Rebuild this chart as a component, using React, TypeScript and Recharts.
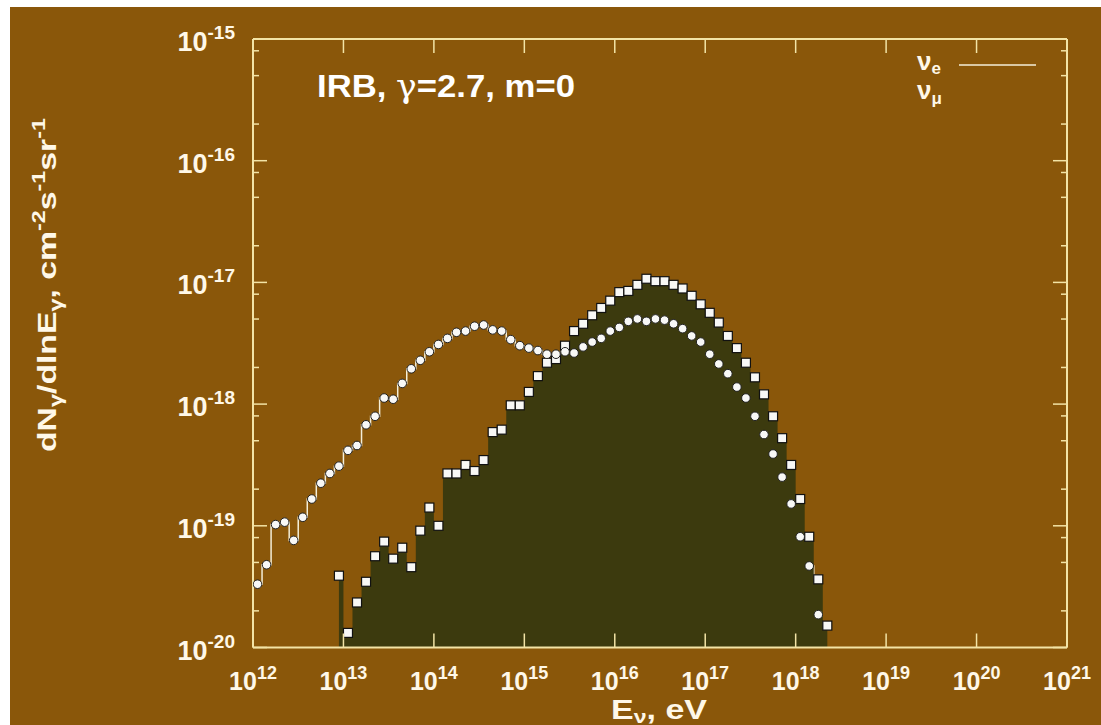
import React from 'react';
import { ComposedChart, Area, Scatter, XAxis, YAxis } from 'recharts';

// log10 of the bin-centre energy (eV)
const LG_E = [
  12.05, 12.15, 12.25, 12.35, 12.45, 12.55, 12.65, 12.75, 12.85, 12.95,
  13.05, 13.15, 13.25, 13.35, 13.45, 13.55, 13.65, 13.75, 13.85, 13.95,
  14.05, 14.15, 14.25, 14.35, 14.45, 14.55, 14.65, 14.75, 14.85, 14.95,
  15.05, 15.15, 15.25, 15.35, 15.45, 15.55, 15.65, 15.75, 15.85, 15.95,
  16.05, 16.15, 16.25, 16.35, 16.45, 16.55, 16.65, 16.75, 16.85, 16.95,
  17.05, 17.15, 17.25, 17.35, 17.45, 17.55, 17.65, 17.75, 17.85, 17.95,
  18.05, 18.15, 18.25, 18.35,
];

// log10 dN/dlnE for nu_e (circles + white steps)
const LG_NU_E = [
  -19.48, -19.32, -18.99, -18.97, -19.12, -18.93, -18.78, -18.65, -18.57, -18.51,
  -18.38, -18.34, -18.17, -18.10, -17.95, -17.96, -17.83, -17.71, -17.64, -17.57,
  -17.51, -17.46, -17.41, -17.40, -17.36, -17.35, -17.39, -17.40, -17.47, -17.52,
  -17.54, -17.56, -17.59, -17.59, -17.57, -17.58, -17.53, -17.49, -17.46, -17.40,
  -17.37, -17.32, -17.30, -17.32, -17.30, -17.31, -17.34, -17.38, -17.44, -17.49,
  -17.59, -17.67, -17.75, -17.86, -17.95, -18.10, -18.25, -18.41, -18.60, -18.82,
  -19.09, -19.33, -19.73, null,
];

// log10 dN/dlnE for nu_mu (squares + dark filled steps)
const LG_NU_MU = [
  null, null, null, null, null, null, null, null, null, -19.41,
  -19.88, -19.63, -19.46, -19.25, -19.13, -19.27, -19.18, -19.34, -19.04, -18.85,
  -19.00, -18.57, -18.57, -18.50, -18.55, -18.46, -18.23, -18.21, -18.01, -18.01,
  -17.90, -17.77, -17.66, -17.63, -17.52, -17.40, -17.34, -17.27, -17.21, -17.15,
  -17.08, -17.07, -17.02, -16.97, -16.99, -16.99, -17.02, -17.05, -17.11, -17.18,
  -17.25, -17.33, -17.44, -17.54, -17.66, -17.78, -17.92, -18.10, -18.28, -18.50,
  -18.78, -19.09, -19.44, -19.82,
];

const X_TICKS = [1e12, 1e13, 1e14, 1e15, 1e16, 1e17, 1e18, 1e19, 1e20, 1e21];
const Y_TICKS = [
  1e-20, 2e-20, 5e-20, 8e-20,
  1e-19, 2e-19, 5e-19, 8e-19,
  1e-18, 2e-18, 5e-18, 8e-18,
  1e-17, 2e-17, 5e-17, 8e-17,
  1e-16, 2e-16, 5e-16, 8e-16,
  1e-15,
];

const BG = '#8a570a';
const FILL = '#3c3a0e';
const FRAME = '#f3e4a6';
const TXT = '#fff8e8';
const FONT = '"Liberation Sans", Arial, Helvetica, sans-serif';
const GREEK = '"DejaVu Serif", "Liberation Serif", serif';

const table = LG_E.map((lg, i) => ({
  e: Math.pow(10, lg),
  nue: LG_NU_E[i] == null ? null : Math.pow(10, LG_NU_E[i] as number),
  numu: LG_NU_MU[i] == null ? null : Math.pow(10, LG_NU_MU[i] as number),
}));
const nueDots = table.filter((r) => r.nue != null).map((r) => ({ e: r.e, flux: r.nue }));
const numuDots = table.filter((r) => r.numu != null).map((r) => ({ e: r.e, flux: r.numu }));

const expOf = (v: number) => Math.round(Math.log10(v));
const isMajor = (v: number) => Math.abs(Math.log10(v) - expOf(v)) < 1e-6;

const BottomTick = (p: any) => (
  <g>
    <line x1={p.x} x2={p.x} y1={p.y} y2={p.y - 14} stroke={FRAME} strokeWidth={1.5} />
    <text x={p.x} y={p.y + 42} textAnchor="middle" fill={TXT} fontSize={25} fontWeight="bold" fontFamily={FONT}>
      10<tspan dy={-11} fontSize={18}>{expOf(p.payload.value)}</tspan>
    </text>
  </g>
);

const TopTick = (p: any) => (
  <line x1={p.x} x2={p.x} y1={p.y} y2={p.y + 14} stroke={FRAME} strokeWidth={1.5} />
);

const LeftTick = (p: any) => {
  const major = isMajor(p.payload.value);
  return (
    <g>
      <line x1={p.x} x2={p.x + (major ? 14 : 6)} y1={p.y} y2={p.y} stroke={FRAME} strokeWidth={1.5} />
      {major && (
        <text x={p.x - 18} y={p.y + 12} textAnchor="end" fill={TXT} fontSize={27} fontWeight="bold" fontFamily={FONT}>
          10<tspan dy={-12} fontSize={19}>{expOf(p.payload.value)}</tspan>
        </text>
      )}
    </g>
  );
};

const RightTick = (p: any) => {
  const major = isMajor(p.payload.value);
  return <line x1={p.x} x2={p.x - (major ? 14 : 6)} y1={p.y} y2={p.y} stroke={FRAME} strokeWidth={1.5} />;
};

const Square = (p: any) => (
  <rect x={p.cx - 4.5} y={p.cy - 4.5} width={9} height={9} fill="#f8f8f6" stroke="#111" strokeWidth={1.2} />
);
const Dot = (p: any) => (
  <circle cx={p.cx} cy={p.cy} r={4.3} fill="#f8f8f6" stroke="#222" strokeWidth={1} />
);

const App = () => {
  return (
    <div style={{ position: 'absolute', left: 0, top: 0, width: 1101, height: 725, background: '#fff' }}>
      <div style={{ position: 'absolute', left: 10, top: 7, width: 1091, height: 718, background: BG }}>
        <ComposedChart width={1091} height={718} data={table} margin={{ top: 31, right: 33, bottom: 76.5, left: 242 }}>
          <Area
            type="step"
            dataKey="nue"
            baseValue="dataMin"
            stroke="#f4eed8"
            strokeWidth={1.5}
            fill="none"
            fillOpacity={0}
            isAnimationActive={false}
          />
          <Area
            type="step"
            dataKey="numu"
            baseValue="dataMin"
            stroke="none"
            fill={FILL}
            fillOpacity={1}
            isAnimationActive={false}
          />
          <Scatter data={numuDots} dataKey="flux" shape={Square} isAnimationActive={false} />
          <Scatter data={nueDots} dataKey="flux" shape={Dot} isAnimationActive={false} />
          <XAxis
            dataKey="e"
            type="number"
            scale="log"
            domain={[1e12, 1e21]}
            allowDataOverflow
            ticks={X_TICKS}
            interval={0}
            height={1}
            tickSize={0}
            tickMargin={0}
            tickLine={false}
            axisLine={{ stroke: FRAME, strokeWidth: 2 }}
            tick={BottomTick}
          />
          <XAxis
            xAxisId="top"
            orientation="top"
            dataKey="e"
            type="number"
            scale="log"
            domain={[1e12, 1e21]}
            allowDataOverflow
            ticks={X_TICKS}
            interval={0}
            height={1}
            tickSize={0}
            tickMargin={0}
            tickLine={false}
            axisLine={{ stroke: FRAME, strokeWidth: 2 }}
            tick={TopTick}
          />
          <YAxis
            dataKey="flux"
            type="number"
            scale="log"
            domain={[1e-20, 1e-15]}
            allowDataOverflow
            ticks={Y_TICKS}
            interval={0}
            width={1}
            tickSize={0}
            tickMargin={0}
            tickLine={false}
            axisLine={{ stroke: FRAME, strokeWidth: 2 }}
            tick={LeftTick}
          />
          <YAxis
            yAxisId="right"
            orientation="right"
            type="number"
            scale="log"
            domain={[1e-20, 1e-15]}
            allowDataOverflow
            ticks={Y_TICKS}
            interval={0}
            width={1}
            tickSize={0}
            tickMargin={0}
            tickLine={false}
            axisLine={{ stroke: FRAME, strokeWidth: 2 }}
            tick={RightTick}
          />
        </ComposedChart>
      </div>
      <svg width={1101} height={725} style={{ position: 'absolute', left: 0, top: 0, pointerEvents: 'none' }}>
        <g fontFamily={FONT} fontWeight="bold">
          <text x={317} y={97} fontSize={32} fill="#ffffff" textLength={258} lengthAdjust="spacingAndGlyphs">
            IRB, <tspan fontFamily={GREEK} fontWeight="normal">γ</tspan>=2.7, m=0
          </text>
          <text x={917} y={70} fontSize={26} fill={TXT}>
            ν<tspan dy={4} fontSize={17}>e</tspan>
          </text>
          <line x1={959} x2={1036} y1={65} y2={65} stroke="#f4eed8" strokeWidth={1.5} />
          <text x={917} y={99} fontSize={26} fill={TXT}>
            ν<tspan dy={5} fontSize={17}>μ</tspan>
          </text>
          <text x={611} y={719} fontSize={28} fill={TXT} textLength={96} lengthAdjust="spacingAndGlyphs">
            E<tspan dy={4} fontSize={19}>ν</tspan>
            <tspan dy={-4}>, eV</tspan>
          </text>
          <text
            transform="translate(56,285) rotate(-90)"
            x={0}
            y={0}
            textAnchor="middle"
            fontSize={26}
            fill={TXT}
            textLength={334}
            lengthAdjust="spacingAndGlyphs"
          >
            dN<tspan dy={6} fontSize={18}>γ</tspan>
            <tspan dy={-6}>/dlnE</tspan>
            <tspan dy={6} fontSize={18}>γ</tspan>
            <tspan dy={-6}>, cm</tspan>
            <tspan dy={-11} fontSize={18}>-2</tspan>
            <tspan dy={11}>s</tspan>
            <tspan dy={-11} fontSize={18}>-1</tspan>
            <tspan dy={11}>sr</tspan>
            <tspan dy={-11} fontSize={18}>-1</tspan>
          </text>
        </g>
      </svg>
    </div>
  );
};

export default App;
